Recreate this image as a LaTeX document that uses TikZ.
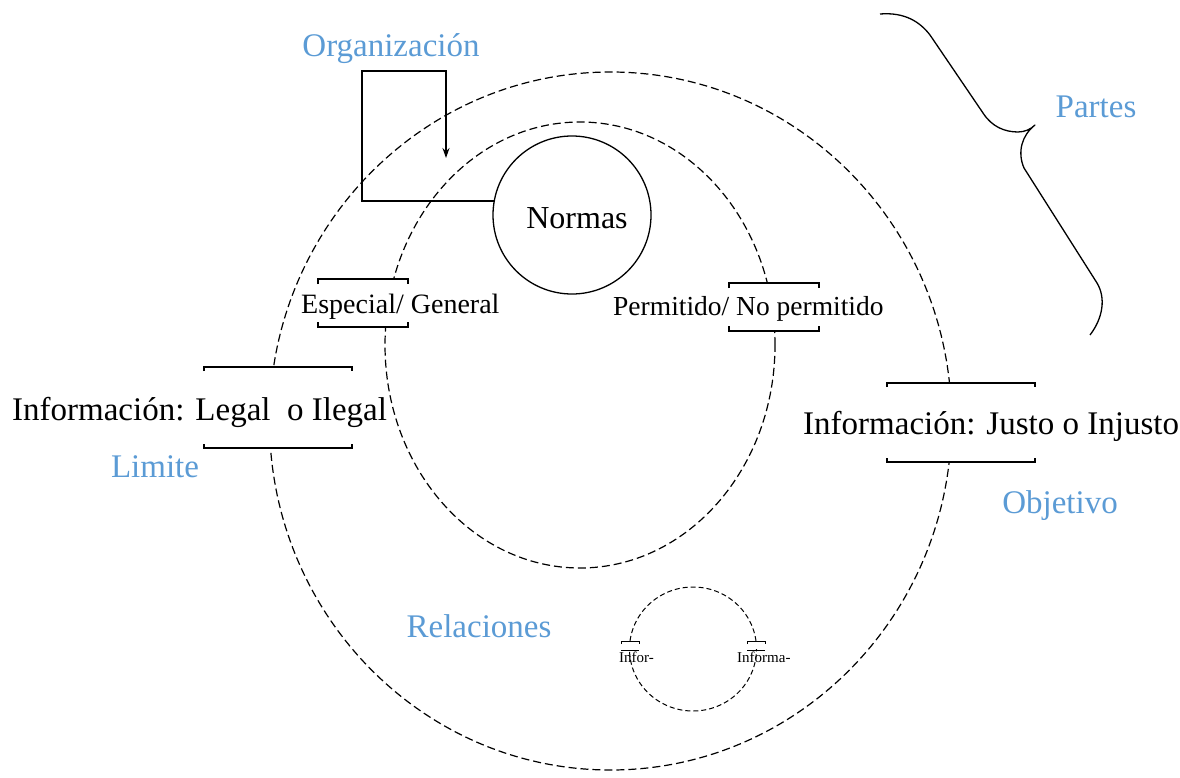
\documentclass[tikz,border=0pt]{standalone}
\usepackage{fontspec}
\setmainfont{Liberation Serif}
\usetikzlibrary{arrows.meta,shapes.geometric}
\definecolor{labelblue}{HTML}{5B9BD5}
\begin{document}
\begin{tikzpicture}[x=1pt,y=-1pt,
  ring/.style={ellipse, draw=black, line width=1.2pt, dash pattern=on 8pt off 4pt, inner sep=0pt},
  gateline/.style={line width=1.8pt, line cap=butt, line join=miter},
  gatefill/.style={fill=white, draw=none},
  bluelabel/.style={text=labelblue, font=\fontsize{33}{36}\selectfont, inner sep=0pt, anchor=base},
  bigtext/.style={font=\fontsize{33}{36}\selectfont, inner sep=0pt, anchor=base west},
  midtext/.style={font=\fontsize{28}{32}\selectfont, inner sep=0pt, anchor=base west},
  tinytext/.style={font=\fontsize{15}{17}\selectfont, inner sep=0pt, anchor=base west},
]
\useasboundingbox (0,0) rectangle (1180,778);

% rings of the system
\node[ring, minimum width=682pt, minimum height=698pt] (outer) at (610.5,421) {};
\node[ring, minimum width=390pt, minimum height=446pt] (inner) at (580,345) {};
\node[ring, line width=1pt, dash pattern=on 5pt off 3pt, minimum width=127pt, minimum height=124pt] (small) at (693,649) {};

% the norms
\node[circle, draw, line width=1.3pt, minimum size=158pt, inner sep=0pt] (normas) at (572,215) {};
\node[font=\fontsize{32}{36}\selectfont, inner sep=0pt, anchor=base] (normastext) at (577,229) {Normas};

% organisation loop
\coordinate (orgA) at (362,71);
\coordinate (orgB) at (446,71);
\coordinate (orgTip) at (446,158);
\draw[line width=2pt, -{Stealth[length=10pt,width=7pt]}]
  (normas.170) -| (orgA) -- (orgB) -- (orgTip);

% gates in the outer ring
\fill[gatefill] (204,368) rectangle (352,447);
\draw[gateline] (204,371) -- (204,367) -- (352,367) -- (352,371);
\draw[gateline] (204,444) -- (204,448) -- (352,448) -- (352,444);
\fill[gatefill] (887,384) rectangle (1035,461);
\draw[gateline] (887,387) -- (887,383) -- (1035,383) -- (1035,387);
\draw[gateline] (887,458) -- (887,462) -- (1035,462) -- (1035,458);

% gates in the inner ring
\fill[gatefill] (318,280) rectangle (408,326);
\draw[gateline, line width=1.5pt] (318,284) -- (318,279) -- (408,279) -- (408,284);
\draw[gateline, line width=1.5pt] (318,322) -- (318,327) -- (408,327) -- (408,322);
\fill[gatefill] (729,284) rectangle (819,330);
\draw[gateline, line width=1.5pt] (729,288) -- (729,283) -- (819,283) -- (819,288);
\draw[gateline, line width=1.5pt] (729,326) -- (729,331) -- (819,331) -- (819,326);

% gates in the small ring
\fill[gatefill] (621,642) rectangle (639,649);
\draw[line width=1pt] (621,644) -- (621,641) -- (639,641) -- (639,644);
\draw[line width=0.8pt] (621,650) -- (639,650);
\fill[gatefill] (747,642) rectangle (765,649);
\draw[line width=1pt] (747,644) -- (747,641) -- (765,641) -- (765,644);
\draw[line width=0.8pt] (747,650) -- (765,650);

% texts
\node[bigtext] (legal) at (12,420) {Información: Legal\ \ o Ilegal};
\node[bigtext] (justo) at (803,434) {Información: Justo o Injusto};
\node[midtext] (especial) at (301,313) {Especial/ General};
\node[midtext, font=\fontsize{27.5}{32}\selectfont] (permitido) at (613,315) {Permitido/ No permitido};
\node[tinytext] (infor) at (619,662) {Infor-};
\node[tinytext] (informa) at (737,662) {Informa-};

% blue labels
\node[bluelabel] (organizacion) at (391,57) {Organización};
\node[bluelabel] (partes) at (1096,118) {Partes};
\node[bluelabel] (limite) at (155,477) {Limite};
\node[bluelabel] (objetivo) at (1060,513) {Objetivo};
\node[bluelabel] (relaciones) at (479,637) {Relaciones};

% brace grouping the parts
\draw[line width=1.3pt, line join=round]
  (880,14) .. controls (905,12) and (920,22) .. (930,35) -- (983,113)
  .. controls (992,127) and (1005,132) .. (1018,132)
  .. controls (1025,132) and (1031,129) .. (1035,125)
  .. controls (1022,135) and (1017,152) .. (1024,168) -- (1097,283)
  .. controls (1106,298) and (1103,318) .. (1090,335);
\end{tikzpicture}
\end{document}
